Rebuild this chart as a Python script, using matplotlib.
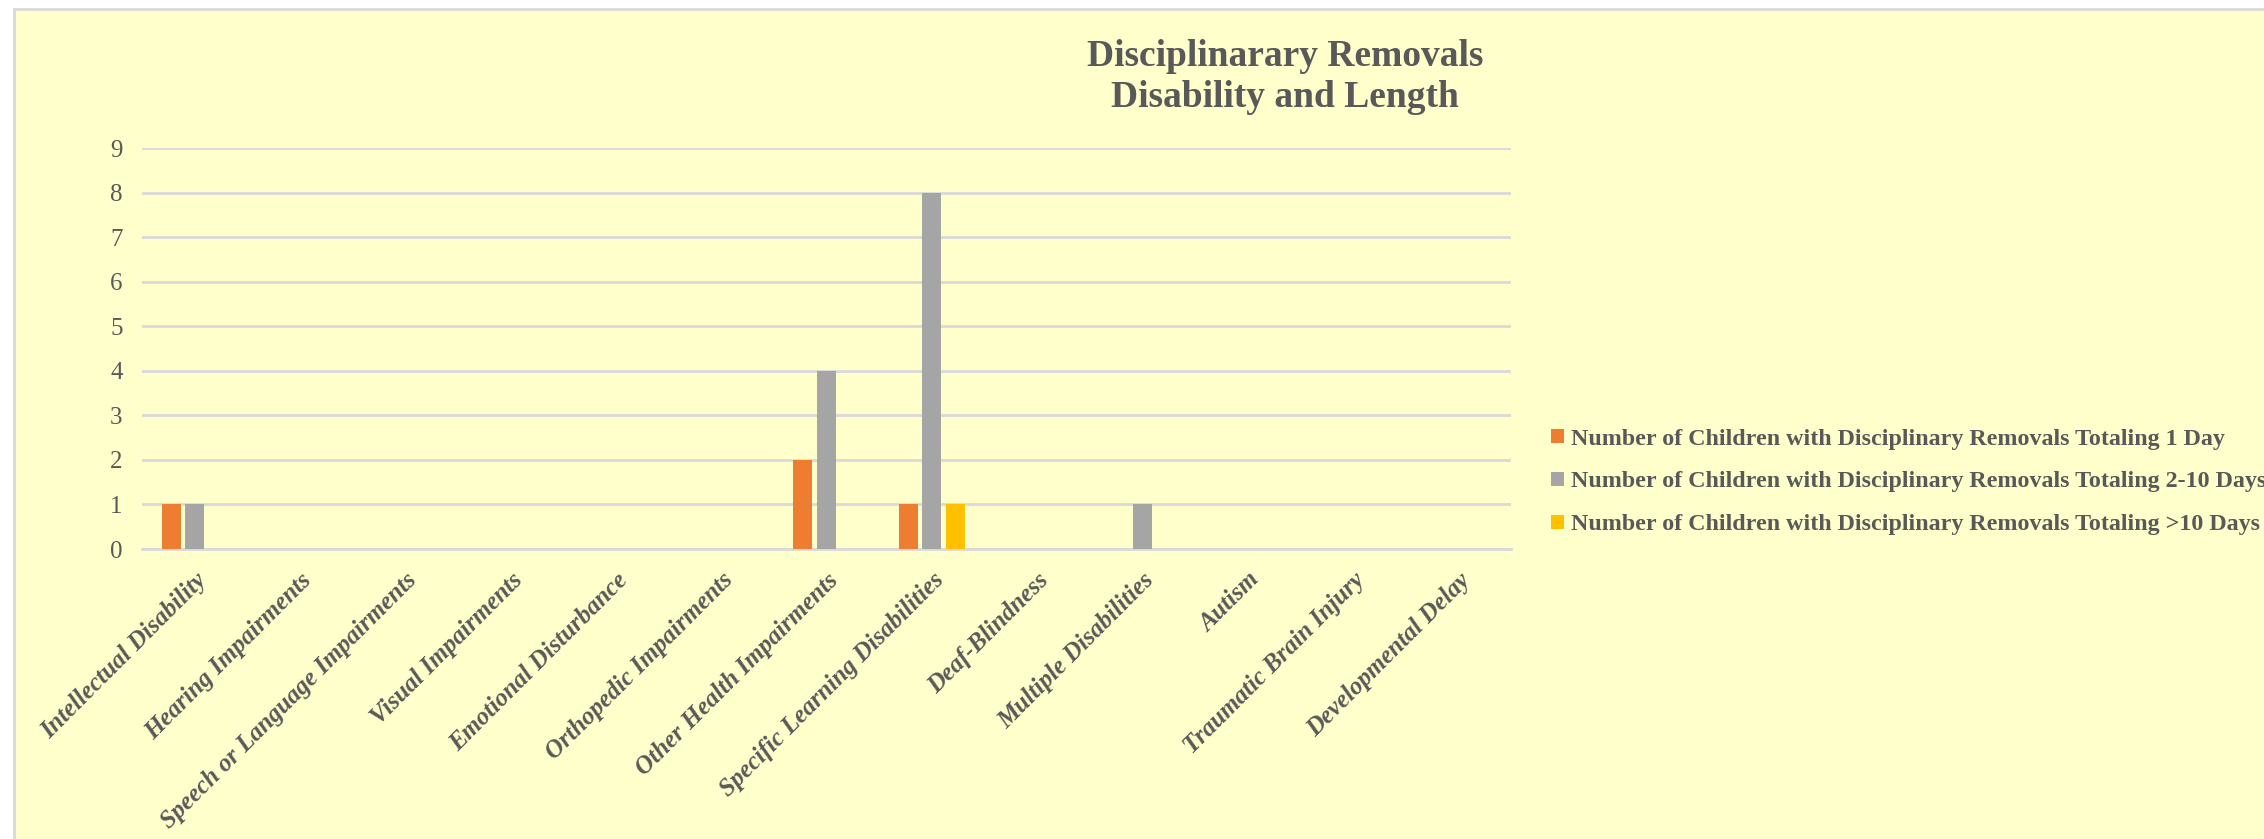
import matplotlib
matplotlib.use('Agg')
import matplotlib.pyplot as plt
import matplotlib.patches as mpatches
import numpy as np

categories = ['Intellectual Disability', 'Hearing Impairments', 'Speech or Language Impairments',
              'Visual Impairments', 'Emotional Disturbance', 'Orthopedic Impairments',
              'Other Health Impairments', 'Specific Learning Disabilities', 'Deaf-Blindness',
              'Multiple Disabilities', 'Autism', 'Traumatic Brain Injury', 'Developmental Delay']
one_day = [1, 0, 0, 0, 0, 0, 2, 1, 0, 0, 0, 0, 0]
two_to_ten = [1, 0, 0, 0, 0, 0, 4, 8, 0, 1, 0, 0, 0]
over_ten = [0, 0, 0, 0, 0, 0, 0, 1, 0, 0, 0, 0, 0]
series_names = ['Number of Children with Disciplinary Removals Totaling 1 Day',
                'Number of Children with Disciplinary Removals Totaling 2-10 Days',
                'Number of Children with Disciplinary Removals Totaling >10 Days']
colors = ['#ED7D31', '#A5A5A5', '#FFC000']

text_col = '#595959'
grid_col = '#D9D9D9'
bg = '#FFFFCC'
plt.rcParams['font.family'] = ['Liberation Serif', 'DejaVu Serif']

W, H = 2264, 839
fig = plt.figure(figsize=(W / 100, H / 100), dpi=100)
fig.patch.set_facecolor('white')

# chart area (runs off the right/bottom edge like the source)
fig.patches.append(mpatches.Rectangle((14 / W, -0.05), 1.1, 1.05 - 9 / H, transform=fig.transFigure,
                                      facecolor=bg, edgecolor=grid_col, linewidth=2, zorder=-10))

ax = fig.add_axes([142 / W, 1 - 549 / H, (1511 - 142) / W, (549 - 148) / H])
ax.set_zorder(2)
ax.patch.set_alpha(0)

x = np.arange(len(categories))
w = 0.18
off = 0.224
for i, vals in enumerate([one_day, two_to_ten, over_ten]):
    ax.bar(x + (i - 1) * off, vals, width=w, color=colors[i], label=series_names[i], zorder=3)

ax.set_xlim(-0.5, len(categories) - 0.5)
ax.set_ylim(0, 9)
ax.set_yticks(range(0, 10))
ax.yaxis.grid(True, color=grid_col, linewidth=2, zorder=0)
for s in ['top', 'right', 'left']:
    ax.spines[s].set_visible(False)
ax.spines['bottom'].set_color(grid_col)
ax.spines['bottom'].set_linewidth(2)
ax.tick_params(axis='both', length=0, colors=text_col)
ax.tick_params(axis='y', labelsize=18, pad=14)

ax.set_xticks(x)
ax.set_xticklabels(categories, rotation=45, ha='right', va='top', rotation_mode='anchor',
                   fontsize=18, fontweight='bold', fontstyle='italic', color=text_col)
ax.tick_params(axis='x', pad=14)

fig.text(1285 / W, 1 - 77 / H, 'Disciplinarary Removals\nDisability and Length', ha='center', va='center',
         fontsize=27, fontweight='bold', color=text_col, linespacing=1.2)

leg = fig.legend(loc='center left', bbox_to_anchor=(1529 / W, 1 - 482 / H), frameon=False,
                 prop={'size': 17.3, 'weight': 'bold'}, handlelength=0.55, handleheight=0.55,
                 handletextpad=0.3, labelspacing=0.91)
for t in leg.get_texts():
    t.set_color(text_col)

fig.savefig('out.png', dpi=100, facecolor=fig.get_facecolor())
